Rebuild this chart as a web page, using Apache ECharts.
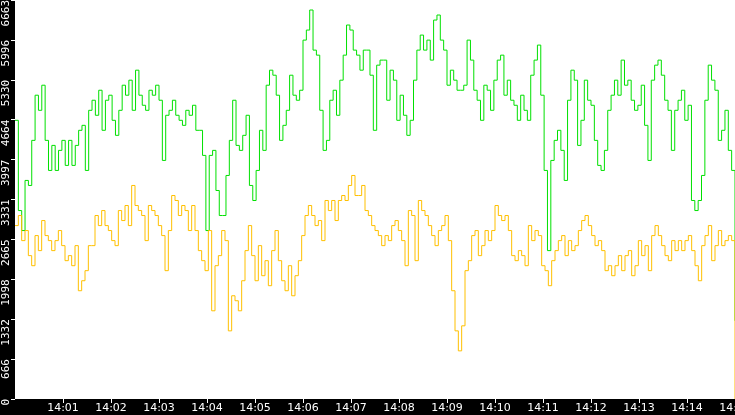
<!DOCTYPE html>
<html><head><meta charset="utf-8">
<script src="https://cdn.jsdelivr.net/npm/echarts@6/dist/echarts.min.js"></script>
<style>html,body{margin:0;padding:0;background:#000}#c{width:735px;height:415px}</style>
</head><body><div id="c"></div>
<script>
const Y_TICKS = ['0','666','1332','1998','2665','3331','3997','4664','5330','5996','6663'];
const X_TICKS = ['14:00','14:01','14:02','14:03','14:04','14:05','14:06','14:07','14:08','14:09','14:10','14:11','14:12','14:13','14:14','14:15'];
const greenValues = [4654,3147,2813,3650,3566,4319,5073,4821,5240,4319,3817,4235,3817,4152,4319,3901,4319,3901,4235,4487,4570,3817,4821,4989,4738,5156,4487,4989,5073,4654,4403,4821,5240,5073,5324,4821,5491,5073,4905,4821,5156,5073,5240,4989,3984,4738,4821,4989,4738,4654,4570,4821,4738,4905,4487,4487,4068,2813,4068,4152,3482,3064,3064,3733,4319,4989,4235,4152,4403,4738,
3566,3315,3817,4487,4152,5240,5491,5407,5073,4319,4570,4821,5407,5073,4989,5156,5993,6161,6496,5826,5742,4821,4152,4319,4989,5156,4738,5324,5742,6245,6161,5826,5742,5491,5826,5826,5407,4487,5575,5659,5659,4989,5491,5324,4654,5073,4738,4403,4654,5324,5826,6077,5826,5993,5659,6328,6412,5993,5826,5240,5491,5324,5156,5156,5240,5993,5659,5156,4989,4654,5240,5156,4821,5324,5659,
5742,5073,5324,4989,4905,4654,5073,4821,4654,5407,5659,5910,5073,3817,2478,3984,4319,4487,4152,3650,4989,5491,5324,4235,4654,5324,4989,4905,4319,3901,3817,4152,4821,5073,5324,5073,5659,5240,5324,4989,4821,4905,5240,4570,3984,5324,5575,5659,5407,4989,4821,4152,4821,4989,5156,4654,4905,3315,3147,3315,3733,4989,5575,5324,5156,4319,4487,4821,4152,3817,1306];
const yellowValues = [2896,3064,2645,2813,2394,2226,2729,2478,2980,2729,2645,2478,2645,2813,2561,2310,2394,2226,2561,1808,1975,2143,2561,2561,3064,2896,3147,2896,2813,2645,2561,3147,2980,3231,2896,3566,3231,3147,3064,2645,3231,3147,3064,2896,2729,2143,2813,3398,3315,3064,3231,3147,2813,3231,2813,2478,2310,2143,2813,1473,2226,2394,2813,2645,1138,1724,1641,1473,1975,2478,2896,
2394,1975,2561,2059,2310,1892,2478,2813,2310,1975,1808,2226,1724,2059,2310,2729,3064,3231,3064,2896,2980,2645,3315,3147,3315,2980,3315,3398,3315,3566,3733,3398,3398,3566,3147,3064,2896,2813,2729,2561,2729,2645,2896,2980,2813,2645,2226,3147,3064,2310,3315,3147,3064,2896,2729,2561,2813,2896,3064,2645,1808,1138,804,1222,2143,2310,2729,2813,2394,2561,2813,2645,2813,3231,3064,
2980,3064,2813,2394,2310,2478,2394,2226,2896,2645,2813,2729,2226,2143,1892,2310,2478,2645,2729,2394,2645,2478,2561,2813,2980,3064,2896,2729,2561,2645,2478,2143,2226,2059,2226,2394,2143,2394,2478,2059,2226,2645,2394,2561,2143,2729,2896,2729,2561,2394,2310,2645,2478,2645,2478,2645,2729,2478,2226,1975,2561,2729,2896,2310,2561,2813,2561,2645,2729,2645,0];
const SPAN = 900;
function pairs(vals){ return vals.map((v,i)=>[i*SPAN/(vals.length-1), v]); }
const chart = echarts.init(document.getElementById('c'));
chart.setOption({
  animation:false,
  backgroundColor:'#000',
  grid:{left:15,right:0,top:0,bottom:16,show:true,backgroundColor:'#fff',borderWidth:0,containLabel:false,outerBoundsMode:'none'},
  xAxis:{type:'value',min:0,max:SPAN,interval:60,
    axisLine:{show:false},splitLine:{show:false},
    axisTick:{show:true,length:4,lineStyle:{color:'#fff'}},
    axisLabel:{showMinLabel:false,showMaxLabel:true,hideOverlap:false,color:'#fff',fontFamily:'DejaVu Sans',fontSize:11,margin:4,
      formatter:v=>X_TICKS[Math.round(v/60)]}},
  yAxis:{type:'value',min:0,max:6663,interval:666.3,
    axisLine:{show:false},splitLine:{show:false},
    axisTick:{show:true,length:4,lineStyle:{color:'#fff'}},
    axisLabel:{color:'#fff',fontFamily:'DejaVu Sans Mono',fontSize:11,rotate:90,margin:3,verticalAlign:'bottom',align:'right',hideOverlap:false,
      formatter:v=>Y_TICKS[Math.round(v/666.3)]}},
  series:[
    {type:'line',step:'end',data:pairs(greenValues),showSymbol:false,lineStyle:{color:'#00e000',width:1}},
    {type:'line',step:'end',data:pairs(yellowValues),showSymbol:false,lineStyle:{color:'#ffc000',width:1}}
  ]
});
</script></body></html>
